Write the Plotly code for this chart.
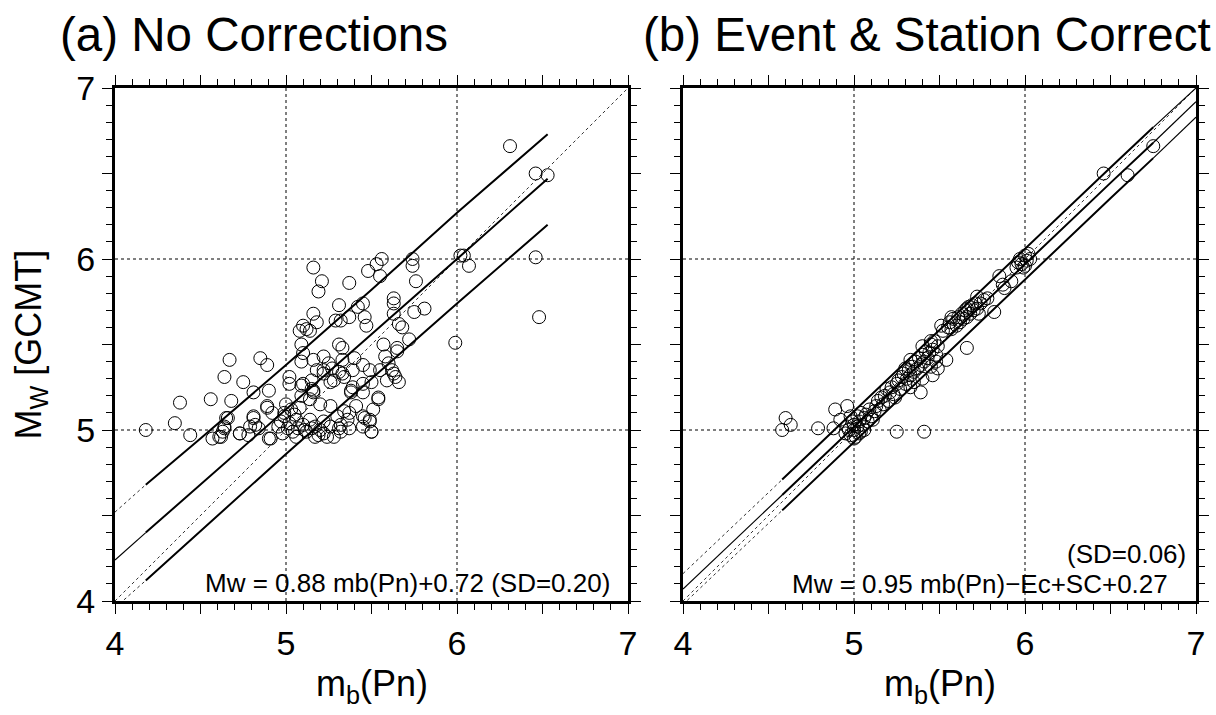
import plotly.graph_objects as go

# ---------------- data ----------------
# Panel (a): mb(Pn) vs Mw, no corrections
a_mb = [6.31, 6.46, 6.53, 6.02, 6.04, 6.07, 6.46, 6.48, 5.99,
        5.16, 5.21, 5.19, 5.37, 5.48, 5.53, 5.56, 5.55, 5.74, 5.74, 5.76, 5.81, 5.75,
        5.63, 5.63, 5.63, 5.66, 5.68, 5.72, 5.65, 5.65, 5.45, 5.42, 5.46, 5.47, 5.31,
        5.29, 5.37, 5.32, 5.16, 5.18, 5.10, 5.12, 5.08, 5.14, 5.09, 5.10, 5.09, 5.16,
        5.22, 5.25, 5.31, 5.33, 5.33, 5.40, 5.45, 5.39, 5.31, 5.33, 5.27, 5.22, 5.18,
        5.57, 5.58, 5.60, 5.55, 5.62, 5.63, 5.66, 5.49, 5.50, 5.45, 5.39, 5.38, 5.26,
        5.15, 5.15, 5.16, 5.09, 5.09, 5.02, 5.02, 4.90, 4.67, 4.85, 4.89, 4.64, 4.75,
        4.81, 4.56, 4.68, 4.38, 4.35, 4.18, 4.44, 4.66, 4.64, 4.63, 4.62, 4.57, 4.73,
        4.78, 4.81, 4.82, 4.84, 4.89, 4.92, 4.90,
        4.99, 5.02, 5.06, 4.955, 5.10, 5.14, 5.17, 5.22, 5.26, 5.31, 5.32, 5.24, 5.17,
        5.06, 4.91, 5.00, 5.08, 5.14, 5.20, 5.26, 5.34, 5.37, 5.41, 5.45, 5.49, 5.50,
        5.54, 4.89, 4.81, 4.79, 4.73, 4.65, 4.64, 4.61,
        5.10, 5.16, 5.22, 5.28, 5.34, 5.38, 5.45, 5.59, 5.64,
        4.99, 5.01, 5.04, 4.98, 5.07, 5.12, 5.15, 5.20, 5.22, 5.28, 5.32, 5.36, 5.30,
        5.37, 5.45, 5.03, 4.97, 5.05, 5.11, 5.19, 5.46, 5.49, 5.50, 5.51, 5.54]
a_mw = [6.66, 6.50, 6.49, 6.02, 6.02, 5.96, 6.01, 5.66, 5.51,
        5.95, 5.87, 5.81, 5.86, 5.93, 5.97, 6.00, 5.90, 6.00, 5.96, 5.87, 5.71, 5.69,
        5.77, 5.74, 5.68, 5.62, 5.60, 5.53, 5.48, 5.46, 5.74, 5.72, 5.66, 5.61, 5.73,
        5.64, 5.66, 5.64, 5.68, 5.63, 5.61, 5.59, 5.58, 5.58, 5.50, 5.45, 5.40, 5.41,
        5.43, 5.39, 5.50, 5.48, 5.41, 5.42, 5.38, 5.35, 5.34, 5.33, 5.36, 5.35, 5.35,
        5.50, 5.43, 5.39, 5.35, 5.35, 5.33, 5.28, 5.35, 5.28, 5.22, 5.25, 5.22, 5.28,
        5.29, 5.24, 5.22, 5.26, 5.20, 5.31, 5.27, 5.23, 5.41, 5.42, 5.38, 5.31, 5.28,
        5.22, 5.18, 5.17, 5.16, 5.04, 5.00, 4.97, 5.07, 5.01, 4.99, 4.96, 4.95, 4.98,
        4.97, 5.07, 5.03, 5.01, 5.13, 5.10, 4.95,
        5.08, 5.04, 5.06, 5.02, 5.03, 5.06, 5.02, 5.05, 5.02, 5.01, 4.99, 4.96, 4.96,
        4.96, 4.95, 5.15, 5.13, 5.18, 5.15, 5.14, 5.11, 5.10, 5.14, 5.08, 5.06, 4.99,
        5.19, 5.14, 5.08, 5.02, 4.98, 5.07, 5.02, 4.96,
        5.27, 5.23, 5.33, 5.29, 5.31, 5.23, 5.27, 5.29, 5.31,
        5.10, 5.01, 4.99, 4.98, 5.01, 4.99, 5.01, 5.00, 4.98, 4.96, 5.03, 5.06, 5.08,
        5.01, 5.02, 5.12, 5.05, 5.09, 5.00, 4.97, 5.07, 5.05, 4.99, 5.12, 5.18]

# Panel (b): with event & station corrections
b_mb = [4.58, 4.63, 4.60, 4.79, 4.88, 4.89, 4.96, 4.92, 5.25, 5.41, 5.39, 5.46, 5.49,
        5.54, 5.66, 5.82, 5.78, 6.46, 6.60, 6.75,
        4.95, 4.97, 4.98, 5.00, 5.00, 5.01, 5.02, 5.03, 5.04, 4.99, 5.02, 5.05, 5.06,
        4.96, 4.98, 5.00, 5.03, 5.06, 5.08, 5.07, 5.04, 5.10, 5.09, 5.12, 5.11, 5.13,
        5.15, 5.14, 5.17, 5.18, 5.16, 5.20, 5.21, 5.19, 5.23, 5.22, 5.25, 5.24, 5.27,
        5.26, 5.28, 5.30, 5.29, 5.31, 5.32, 5.33, 5.34, 5.35, 5.30, 5.36, 5.37, 5.38,
        5.39, 5.40, 5.41, 5.42, 5.43, 5.45, 5.44, 5.46, 5.47, 5.49, 5.48, 5.52, 5.55,
        5.56, 5.57, 5.58, 5.60, 5.61, 5.62, 5.63, 5.64, 5.65, 5.66, 5.67, 5.68, 5.69,
        5.70, 5.71, 5.72, 5.74, 5.73, 5.76, 5.85, 5.87, 5.92, 5.88, 5.95, 5.97, 5.98,
        6.00, 5.99, 6.01, 6.02, 6.03, 5.96, 6.00,
        5.33, 5.40, 5.45, 5.48, 5.35, 5.33, 5.40, 5.45, 5.51, 5.57, 5.66, 5.72]
b_mw = [5.00, 5.03, 5.07, 5.01, 5.01, 5.12, 5.14, 5.06, 4.99, 4.99, 5.22, 5.32, 5.36,
        5.41, 5.48, 5.69, 5.77, 6.50, 6.49, 6.66,
        4.98, 5.00, 4.97, 5.00, 5.03, 4.96, 5.02, 5.05, 4.99, 5.05, 5.08, 5.03, 5.07,
        5.02, 5.08, 4.95, 4.98, 5.00, 5.05, 5.09, 5.10, 5.08, 5.12, 5.11, 5.06, 5.14,
        5.12, 5.17, 5.15, 5.20, 5.19, 5.17, 5.22, 5.24, 5.21, 5.25, 5.27, 5.19, 5.24,
        5.29, 5.31, 5.27, 5.33, 5.30, 5.35, 5.32, 5.37, 5.34, 5.36, 5.40, 5.36, 5.42,
        5.38, 5.44, 5.40, 5.46, 5.42, 5.50, 5.45, 5.47, 5.52, 5.49, 5.44, 5.58, 5.60,
        5.63, 5.59, 5.65, 5.61, 5.66, 5.63, 5.68, 5.65, 5.70, 5.66, 5.72, 5.68, 5.73,
        5.70, 5.74, 5.71, 5.74, 5.68, 5.76, 5.90, 5.85, 5.87, 5.83, 5.95, 6.00, 5.97,
        6.02, 5.95, 5.99, 6.03, 6.00, 5.98, 5.96,
        5.25, 5.30, 5.37, 5.40, 5.28, 5.41, 5.49, 5.52, 5.61, 5.66, 5.71, 5.78]

# 1:1 reference line
diag = [4, 7]

# Panel (a) regression line and bounds
a_band_x = [4.18, 4.5, 5.0, 5.5, 6.0, 6.53]
a_center = [4.40, 4.68, 5.12, 5.56, 6.00, 6.47]
a_upper = [4.68, 4.95, 5.38, 5.82, 6.27, 6.73]
a_lower = [4.12, 4.41, 4.86, 5.30, 5.74, 6.20]
a_ext_x = [4.0, 4.18]
a_ext_center = [4.24, 4.40]
a_ext_upper = [4.52, 4.68]
a_ext_lower = [3.96, 4.12]

# Panel (b) regression line and bounds
b_band_x = [4.58, 5.0, 5.5, 6.0, 6.5, 6.75]
b_center = [4.62, 5.02, 5.495, 5.97, 6.445, 6.68]
b_upper = [4.71, 5.11, 5.585, 6.06, 6.535, 6.77]
b_lower = [4.53, 4.93, 5.405, 5.88, 6.355, 6.59]
b_lext_x = [4.0, 4.58]
b_lext_center = [4.07, 4.62]
b_lext_upper = [4.16, 4.71]
b_lext_lower = [3.98, 4.53]
b_rext_x = [6.75, 7.0]
b_rext_center = [6.68, 6.92]
b_rext_upper = [6.77, 7.00]
b_rext_lower = [6.59, 6.83]

# axis ticks: range, tick step (labels every 2nd tick), minor step, gridlines
axis_range = [4, 7]
tick_step = 0.5
minor_step = 0.1
grid_vals = [5, 6]

titles = ["(a) No Corrections", "(b) Event & Station Correct"]
eq_a = "Mw = 0.88 mb(Pn)+0.72 (SD=0.20)"
eq_b1 = "(SD=0.06)"
eq_b2 = "Mw = 0.95 mb(Pn)\u2212Ec+SC+0.27"
x_title = "m<sub>b</sub>(Pn)"
y_title = "M<sub>W</sub> [GCMT]"

FONT = "Liberation Sans, Arial, Helvetica, sans-serif"
W, H = 1216, 715

# ---------------- figure ----------------
fig = go.Figure()


def line(x, y, xa, ya, width=1, dash="solid", color="black"):
    fig.add_trace(go.Scatter(x=x, y=y, xaxis=xa, yaxis=ya, mode="lines",
                             line=dict(color=color, width=width, dash=dash),
                             hoverinfo="skip", showlegend=False))


for xa, ya in (("x", "y"), ("x2", "y2")):
    line(diag, diag, xa, ya, width=1, dash="dot", color="#333")

# panel a lines
line(a_ext_x, a_ext_upper, "x", "y", 1, "dot", "#333")
line(a_ext_x, a_ext_lower, "x", "y", 1, "dot", "#333")
line(a_ext_x, a_ext_center, "x", "y", 1.2)
line(a_band_x, a_upper, "x", "y", 2)
line(a_band_x, a_center, "x", "y", 2)
line(a_band_x, a_lower, "x", "y", 2)

# panel b lines
line(b_lext_x, b_lext_upper, "x2", "y2", 1, "dot", "#333")
line(b_lext_x, b_lext_lower, "x2", "y2", 1, "dot", "#333")
line(b_lext_x, b_lext_center, "x2", "y2", 1.2)
line(b_rext_x, b_rext_upper, "x2", "y2", 1.2)
line(b_rext_x, b_rext_center, "x2", "y2", 1.2)
line(b_rext_x, b_rext_lower, "x2", "y2", 1.2)
line(b_band_x, b_upper, "x2", "y2", 2)
line(b_band_x, b_center, "x2", "y2", 2)
line(b_band_x, b_lower, "x2", "y2", 2)

marker = dict(symbol="circle-open", size=13, color="black", line=dict(width=1, color="black"))
fig.add_trace(go.Scatter(x=a_mb, y=a_mw, mode="markers", marker=marker,
                         xaxis="x", yaxis="y", showlegend=False))
fig.add_trace(go.Scatter(x=b_mb, y=b_mw, mode="markers", marker=marker,
                         xaxis="x2", yaxis="y2", showlegend=False))

# pixel layout
xa_dom = [115 / W, 628 / W]
xb_dom = [683 / W, 1196 / W]
y_dom = [1 - 601 / H, 1 - 88 / H]


def axis(domain, anchor, labels=True):
    return dict(domain=domain, anchor=anchor, range=axis_range, automargin=False,
                tickmode="linear", tick0=axis_range[0], dtick=tick_step,
                ticklabelstep=2, tickformat="d",
                showticklabels=labels,
                ticks="outside", ticklen=10, tickwidth=1, tickcolor="black",
                showline=True, linewidth=3, linecolor="black", mirror="ticks",
                showgrid=False, zeroline=False,
                minor=dict(dtick=minor_step, tick0=axis_range[0], ticks="outside", ticklen=6,
                           tickwidth=1, tickcolor="black", showgrid=False),
                tickfont=dict(family=FONT, size=34, color="black"))


fig.update_layout(
    width=W, height=H,
    margin=dict(l=0, r=0, t=0, b=0, autoexpand=False),
    paper_bgcolor="white", plot_bgcolor="white",
    xaxis=axis(xa_dom, "y"),
    yaxis=axis(y_dom, "x"),
    xaxis2=axis(xb_dom, "y2"),
    yaxis2=axis(y_dom, "x2", labels=False),
    font=dict(family=FONT, color="black"),
)

# gridlines at integer values (dotted)
shapes = []
for xr, yr in (("x", "y"), ("x2", "y2")):
    for g in grid_vals:
        shapes.append(dict(type="line", xref=xr, yref=yr + " domain", x0=g, x1=g, y0=0, y1=1,
                           line=dict(color="black", width=1, dash="dot"), layer="below"))
        shapes.append(dict(type="line", xref=xr + " domain", yref=yr, x0=0, x1=1, y0=g, y1=g,
                           line=dict(color="black", width=1, dash="dot"), layer="below"))
fig.update_layout(shapes=shapes)

ann = []
ann.append(dict(text=titles[0], x=58 / W, y=1 - 34 / H, xref="paper", yref="paper",
                xanchor="left", yanchor="middle", showarrow=False,
                font=dict(family=FONT, size=47.5, color="black")))
ann.append(dict(text=titles[1], x=641 / W, y=1 - 34 / H, xref="paper", yref="paper",
                xanchor="left", yanchor="middle", showarrow=False,
                font=dict(family=FONT, size=47.5, color="black")))
ann.append(dict(text=eq_a, x=612 / W, y=1 - 583 / H, xref="paper", yref="paper",
                xanchor="right", yanchor="middle", showarrow=False,
                font=dict(family=FONT, size=26, color="black")))
ann.append(dict(text=eq_b1, x=1188 / W, y=1 - 554 / H, xref="paper", yref="paper",
                xanchor="right", yanchor="middle", showarrow=False,
                font=dict(family=FONT, size=26, color="black")))
ann.append(dict(text=eq_b2, x=1170 / W, y=1 - 584 / H, xref="paper", yref="paper",
                xanchor="right", yanchor="middle", showarrow=False,
                font=dict(family=FONT, size=26, color="black")))
for cx in (371.5, 939.5):
    ann.append(dict(text=x_title, x=cx / W, y=1 - 686 / H, xref="paper", yref="paper",
                    xanchor="center", yanchor="middle", showarrow=False,
                    font=dict(family=FONT, size=36, color="black")))
ann.append(dict(text=y_title, x=30 / W, y=1 - 344.5 / H, xref="paper", yref="paper",
                xanchor="center", yanchor="middle", showarrow=False, textangle=-90,
                font=dict(family=FONT, size=36, color="black")))
fig.update_layout(annotations=ann)

fig.write_html("out.html", config={"displayModeBar": False},
               post_script="document.body.style.margin='0';document.body.style.overflow='hidden';")
